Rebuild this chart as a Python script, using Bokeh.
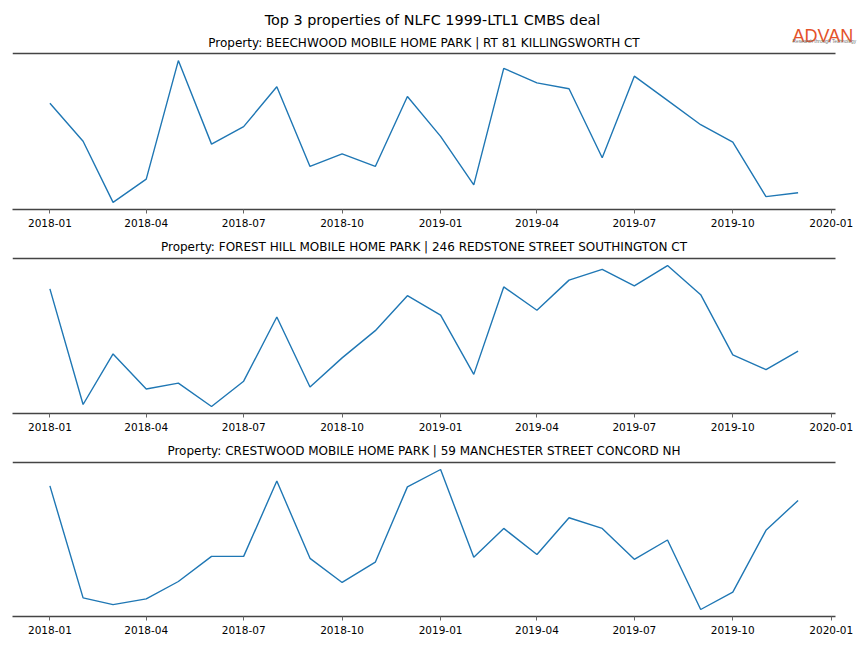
import pandas as pd
from bokeh.plotting import figure
from bokeh.layouts import column
from bokeh.models import Range1d, FixedTicker, DatetimeTickFormatter, Label
from bokeh.embed import file_html
from bokeh.resources import INLINE

main_title = "Top 3 properties of NLFC 1999-LTL1 CMBS deal"
logo_text = "ADVAN"
logo_sub = "Research through Technology"
panel_titles = [
    "Property: BEECHWOOD MOBILE HOME PARK | RT 81 KILLINGSWORTH CT",
    "Property: FOREST HILL MOBILE HOME PARK | 246 REDSTONE STREET SOUTHINGTON CT",
    "Property: CRESTWOOD MOBILE HOME PARK | 59 MANCHESTER STREET CONCORD NH",
]
month_labels = ["2018-01", "2018-02", "2018-03", "2018-04", "2018-05", "2018-06",
                "2018-07", "2018-08", "2018-09", "2018-10", "2018-11", "2018-12",
                "2019-01", "2019-02", "2019-03", "2019-04", "2019-05", "2019-06",
                "2019-07", "2019-08", "2019-09", "2019-10", "2019-11", "2019-12"]
tick_labels = ["2018-01", "2018-04", "2018-07", "2018-10",
               "2019-01", "2019-04", "2019-07", "2019-10", "2020-01"]

beechwood = [107, 68, 5, 29, 151, 65, 83, 124, 42, 55, 42, 114,
             73, 23, 143, 128, 122, 51, 135, 110, 85, 67, 11, 15]
forest_hill = [126, 7, 59, 23, 29, 5, 31, 97, 25, 55, 83, 119,
               99, 38, 128, 104, 135, 146, 129, 150, 120, 58, 43, 62]
crestwood = [132, 16, 9, 15, 33, 59, 59, 137, 57, 32, 53, 131,
             149, 58, 88, 61, 99, 88, 56, 76, 4, 22, 86, 117]

series = [beechwood, forest_hill, crestwood]

dates = pd.to_datetime([m + "-01" for m in month_labels])
tick_ms = [pd.Timestamp(t + "-01").value / 1e6 for t in tick_labels]

SPINE = "#444444"
LINE = "#1f77b4"
FONT = "DejaVu Sans"

W = 862
LEFT = 12
PLOT_W = 823                 # width of the drawn axes box
FRAME_W = W - LEFT           # drawing area reaches the right edge (room for the logo)
TOPS = [53, 22, 22]          # header space above each axes box
BOX_H = [156, 155, 154]      # height of each axes box
BOTTOMS = [27, 27, 24]
TITLE_Y = [42, 10, 10]       # title centre, from each figure's top

span = dates[-1] - dates[0]
x0_ms = (dates[0] - 0.05 * span).value / 1e6
x1_ms = (dates[-1] + 0.05 * span).value / 1e6

figs = []
for i, (vals, ttl) in enumerate(zip(series, panel_titles)):
    lo, hi = min(vals), max(vals)
    pad = 0.05 * (hi - lo)
    y0, y1 = lo - pad, hi + pad

    xr = Range1d(x0_ms, x0_ms + (x1_ms - x0_ms) * FRAME_W / PLOT_W)
    yr = Range1d(y0, y1 + (y1 - y0) * TOPS[i] / BOX_H[i])
    p = figure(x_axis_type="datetime", width=W, height=TOPS[i] + BOX_H[i] + BOTTOMS[i],
               x_range=xr, y_range=yr, y_axis_location=None,
               output_backend="svg", toolbar_location=None,
               min_border_left=LEFT, min_border_right=0,
               min_border_top=0, min_border_bottom=BOTTOMS[i])
    p.grid.visible = False
    p.outline_line_color = None
    p.background_fill_color = "white"

    ax = p.xaxis[0]
    ax.ticker = FixedTicker(ticks=tick_ms)
    ax.formatter = DatetimeTickFormatter(years="%Y-%m", months="%Y-%m", days="%Y-%m")
    ax.bounds = (x0_ms, x1_ms)
    ax.axis_line_color = SPINE
    ax.axis_line_width = 1.5
    ax.major_tick_in = 0
    ax.major_tick_out = 4
    ax.major_tick_line_color = "#666666"
    ax.minor_tick_line_color = None
    ax.major_label_text_font = FONT
    ax.major_label_text_font_size = "10.5px"
    ax.major_label_text_color = "black"
    ax.major_label_standoff = 5

    # top spine
    p.segment(x0=[x0_ms], y0=[y1], x1=[x1_ms], y1=[y1], line_color=SPINE, line_width=1.5)

    p.line(dates, vals, line_color=LINE, line_width=1.4)

    p.add_layout(Label(x=LEFT + PLOT_W / 2, y=TITLE_Y[i], x_units="canvas", y_units="canvas",
                       text=ttl, text_font=FONT, text_font_size="12px", text_color="black",
                       text_align="center", text_baseline="middle"))
    if i == 0:
        p.add_layout(Label(x=432, y=19, x_units="canvas", y_units="canvas", text=main_title,
                           text_font=FONT, text_font_size="14.4px", text_color="black",
                           text_align="center", text_baseline="middle"))
        p.add_layout(Label(x=792, y=35.5, x_units="canvas", y_units="canvas", text=logo_text,
                           text_font="Liberation Sans",
                           text_font_size="18px", text_color="#E4522A",
                           text_baseline="alphabetic"))
        p.add_layout(Label(x=792, y=40.5, x_units="canvas", y_units="canvas", text=logo_sub,
                           text_font="Liberation Sans", text_font_size="4.8px",
                           text_color="#777777", text_baseline="alphabetic"))
    figs.append(p)

layout = column(*figs, spacing=0)
open("out.html", "w").write(file_html(layout, INLINE))
